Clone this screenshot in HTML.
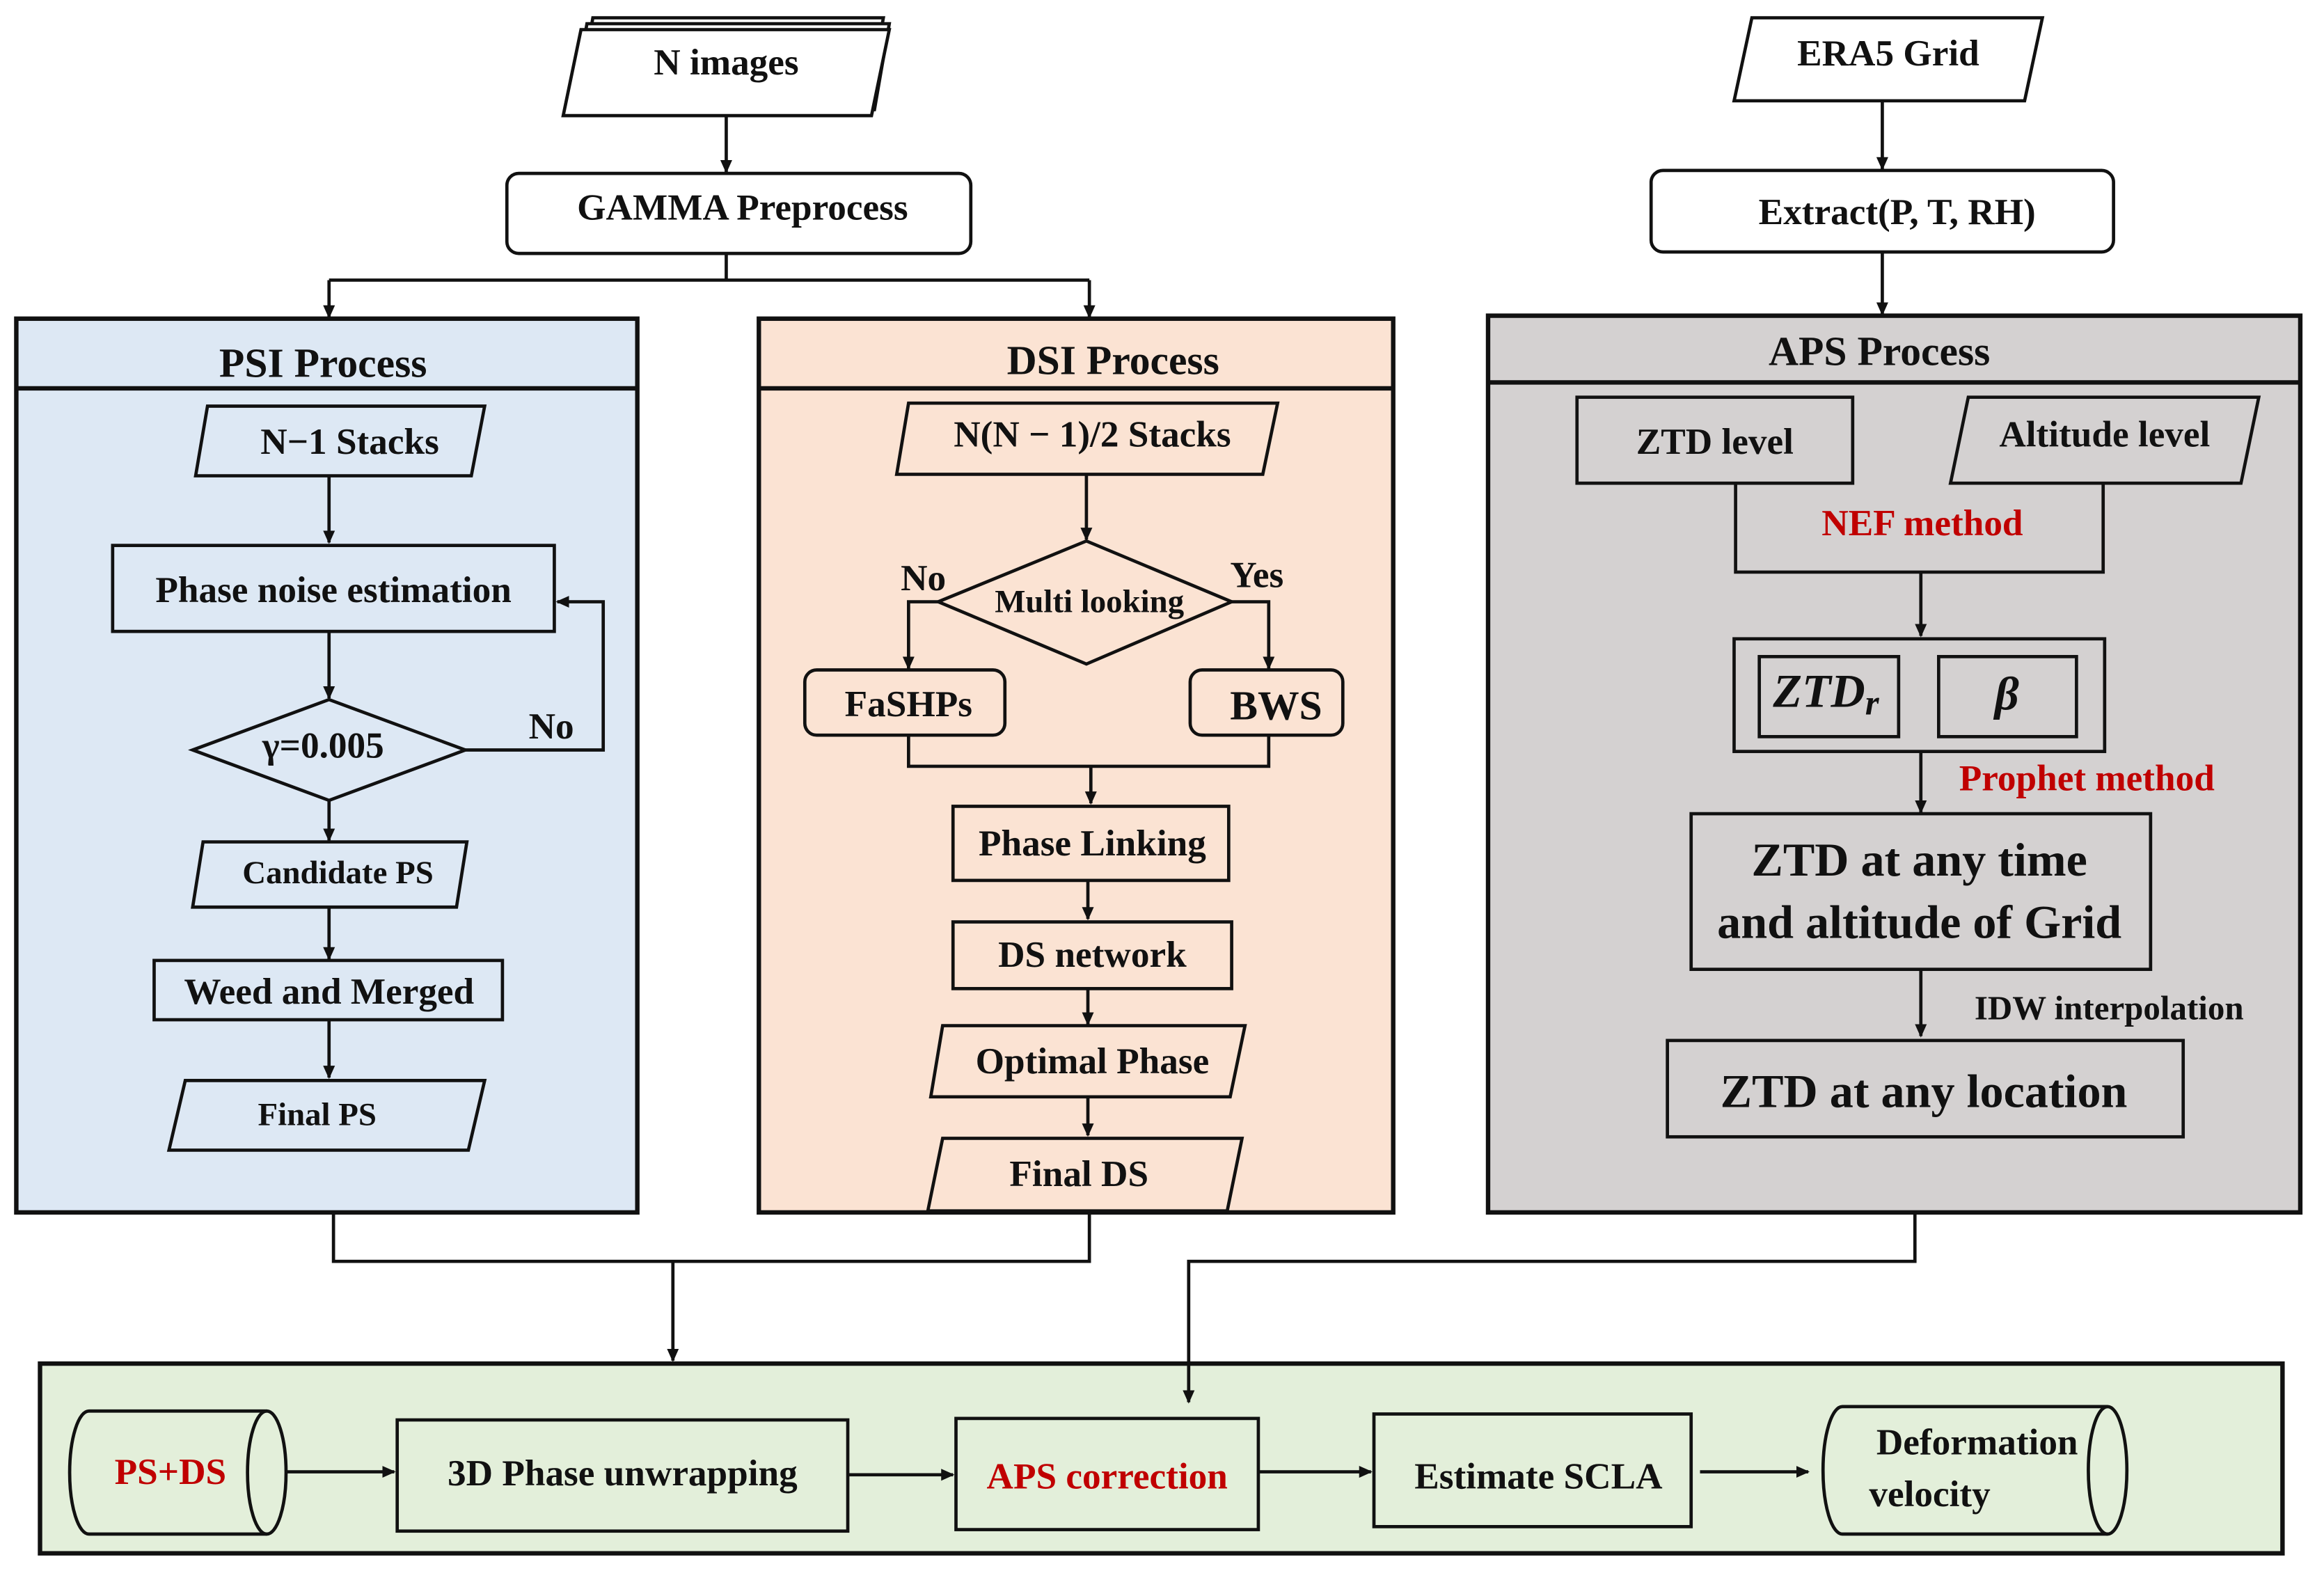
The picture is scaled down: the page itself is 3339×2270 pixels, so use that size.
<!DOCTYPE html>
<html><head><meta charset="utf-8"><style>
html,body{margin:0;padding:0;background:#fff;}
svg{display:block;}
text{font-family:"Liberation Serif",serif;font-weight:bold;fill:#111;text-anchor:middle;dominant-baseline:central;}
</style></head><body>
<svg width="3339" height="2270" viewBox="0 0 1568 1066" preserveAspectRatio="none" xmlns="http://www.w3.org/2000/svg">
<defs><marker id="a" markerWidth="10" markerHeight="10" refX="8" refY="5" orient="auto" markerUnits="userSpaceOnUse"><path d="M0,1 L9,5 L0,9 Z" fill="#111"/></marker></defs>
<g stroke="#111" stroke-width="2.2" fill="none">
<polygon points="400,12 596,12 586,70 390,70" fill="#fff"/>
<polygon points="396,16 600,16 590,74 386,74" fill="#fff"/>
<polygon points="392,20 600,20 588,78 380,78" fill="#fff"/>
<line x1="490" y1="78" x2="490" y2="116" marker-end="url(#a)"/>
<rect x="342" y="117" width="313" height="54" rx="8" fill="#fff"/>
<polyline points="490,171 490,189"/>
<line x1="222" y1="189" x2="735" y2="189"/>
<line x1="222" y1="189" x2="222" y2="214" marker-end="url(#a)"/>
<line x1="735" y1="189" x2="735" y2="214" marker-end="url(#a)"/>
<polygon points="1182,12 1378,12 1366,68 1170,68" fill="#fff"/>
<line x1="1270" y1="68" x2="1270" y2="114" marker-end="url(#a)"/>
<rect x="1114" y="115" width="312" height="55" rx="8" fill="#fff"/>
<line x1="1270" y1="170" x2="1270" y2="212" marker-end="url(#a)"/>

<rect x="11" y="215" width="419" height="603" fill="#dde8f4" stroke-width="3"/>
<line x1="11" y1="262" x2="430" y2="262" stroke-width="3"/>
<polygon points="140,274 327,274 318,321 132,321"/>
<line x1="222" y1="321" x2="222" y2="366" marker-end="url(#a)"/>
<rect x="76" y="368" width="298" height="58"/>
<line x1="222" y1="426" x2="222" y2="471" marker-end="url(#a)"/>
<polygon points="130,506 222,472 314,506 222,540"/>
<polyline points="314,506 407,506 407,406 376,406" marker-end="url(#a)"/>
<line x1="222" y1="540" x2="222" y2="567" marker-end="url(#a)"/>
<polygon points="137,568 315,568 308,612 130,612"/>
<line x1="222" y1="612" x2="222" y2="647" marker-end="url(#a)"/>
<rect x="104" y="648" width="235" height="40"/>
<line x1="222" y1="688" x2="222" y2="727" marker-end="url(#a)"/>
<polygon points="125,729 327,729 316,776 114,776"/>

<rect x="512" y="215" width="428" height="603" fill="#fbe3d3" stroke-width="3"/>
<line x1="512" y1="262" x2="940" y2="262" stroke-width="3"/>
<polygon points="613,272 862,272 852,320 605,320"/>
<line x1="733" y1="320" x2="733" y2="364" marker-end="url(#a)"/>
<polygon points="633,406 733,365 831,406 733,448"/>
<polyline points="633,406 613,406 613,451" marker-end="url(#a)"/>
<polyline points="831,406 856,406 856,451" marker-end="url(#a)"/>
<rect x="543" y="452" width="135" height="44" rx="8"/>
<rect x="803" y="452" width="103" height="44" rx="8"/>
<polyline points="613,496 613,517 856,517 856,496"/>
<line x1="736" y1="517" x2="736" y2="542" marker-end="url(#a)"/>
<rect x="643" y="544" width="186" height="50"/>
<line x1="734" y1="594" x2="734" y2="620" marker-end="url(#a)"/>
<rect x="643" y="622" width="188" height="45"/>
<line x1="734" y1="667" x2="734" y2="691" marker-end="url(#a)"/>
<polygon points="636,692 840,692 830,740 628,740"/>
<line x1="734" y1="740" x2="734" y2="766" marker-end="url(#a)"/>
<polygon points="636,768 838,768 828,817 626,817"/>

<rect x="1004" y="213" width="548" height="605" fill="#d4d1d1" stroke-width="3"/>
<line x1="1004" y1="258" x2="1552" y2="258" stroke-width="3"/>
<rect x="1064" y="268" width="186" height="58"/>
<polygon points="1328,268 1524,268 1512,326 1316,326"/>
<polyline points="1171,326 1171,386 1419,386 1419,326"/>
<line x1="1296" y1="386" x2="1296" y2="429" marker-end="url(#a)"/>
<rect x="1170" y="431" width="250" height="76"/>
<rect x="1187" y="443" width="94" height="54"/>
<rect x="1308" y="443" width="93" height="54"/>
<line x1="1296" y1="507" x2="1296" y2="548" marker-end="url(#a)"/>
<rect x="1141" y="549" width="310" height="105"/>
<line x1="1296" y1="654" x2="1296" y2="699" marker-end="url(#a)"/>
<rect x="1125" y="702" width="348" height="65"/>

<rect x="27" y="920" width="1513" height="128" fill="#e3efda" stroke-width="3"/>
<polyline points="225,818 225,851 735,851 735,818"/>
<line x1="454" y1="851" x2="454" y2="918" marker-end="url(#a)"/>
<polyline points="1292,818 1292,851 802,851 802,946" marker-end="url(#a)"/>

<path d="M60,952 L180,952 A13,41.5 0 0 1 180,1035 L60,1035 A13,41.5 0 0 1 60,952 Z"/>
<path d="M180,952 A13,41.5 0 0 0 180,1035"/>
<line x1="193" y1="993" x2="266" y2="993" marker-end="url(#a)"/>
<rect x="268" y="958" width="304" height="75"/>
<line x1="572" y1="995" x2="643" y2="995" marker-end="url(#a)"/>
<rect x="645" y="957" width="204" height="75"/>
<line x1="849" y1="993" x2="925" y2="993" marker-end="url(#a)"/>
<rect x="927" y="954" width="214" height="76"/>
<line x1="1147" y1="993" x2="1220" y2="993" marker-end="url(#a)"/>
<path d="M1243,949 L1422,949 A13,43 0 0 1 1422,1035 L1243,1035 A13,43 0 0 1 1243,949 Z"/>
<path d="M1422,949 A13,43 0 0 0 1422,1035"/>
</g>

<g font-size="25">
<text x="490" y="42">N images</text>
<text x="501" y="140">GAMMA Preprocess</text>
<text x="1274" y="36">ERA5 Grid</text>
<text x="1280" y="143">Extract(P, T, RH)</text>
<text x="218" y="245" font-size="28">PSI Process</text>
<text x="236" y="298">N−1 Stacks</text>
<text x="225" y="398">Phase noise estimation</text>
<text x="218" y="503">γ=0.005</text>
<text x="372" y="490">No</text>
<text x="228" y="589" font-size="22">Candidate PS</text>
<text x="222" y="669">Weed and Merged</text>
<text x="214" y="752" font-size="22">Final PS</text>
<text x="751" y="243" font-size="28">DSI Process</text>
<text x="737" y="293">N(N − 1)/2 Stacks</text>
<text x="735" y="406" font-size="22">Multi looking</text>
<text x="623" y="390">No</text>
<text x="848" y="388">Yes</text>
<text x="613" y="475">FaSHPs</text>
<text x="861" y="476" font-size="28">BWS</text>
<text x="737" y="569">Phase Linking</text>
<text x="737" y="644">DS network</text>
<text x="737" y="716">Optimal Phase</text>
<text x="728" y="792">Final DS</text>
<text x="1268" y="237" font-size="28">APS Process</text>
<text x="1157" y="298">ZTD level</text>
<text x="1420" y="293">Altitude level</text>
<text x="1297" y="353" style="fill:#c00000">NEF method</text>
<text x="1232" y="466" font-size="32" font-style="italic">ZTD<tspan font-size="24" dy="8">r</tspan></text>
<text x="1354" y="468" font-size="32" font-style="italic">β</text>
<text x="1408" y="525" style="fill:#c00000">Prophet method</text>
<text x="1295" y="580" font-size="32">ZTD at any time</text>
<text x="1295" y="622" font-size="32">and altitude of Grid</text>
<text x="1423" y="680" font-size="23">IDW interpolation</text>
<text x="1298" y="736" font-size="32">ZTD at any location</text>
<text x="115" y="993" style="fill:#c00000">PS+DS</text>
<text x="420" y="994">3D Phase unwrapping</text>
<text x="747" y="996" style="fill:#c00000">APS correction</text>
<text x="1038" y="996">Estimate SCLA</text>
<text x="1334" y="973">Deformation</text>
<text x="1302" y="1008">velocity</text>
</g>
</svg>
</body></html>
